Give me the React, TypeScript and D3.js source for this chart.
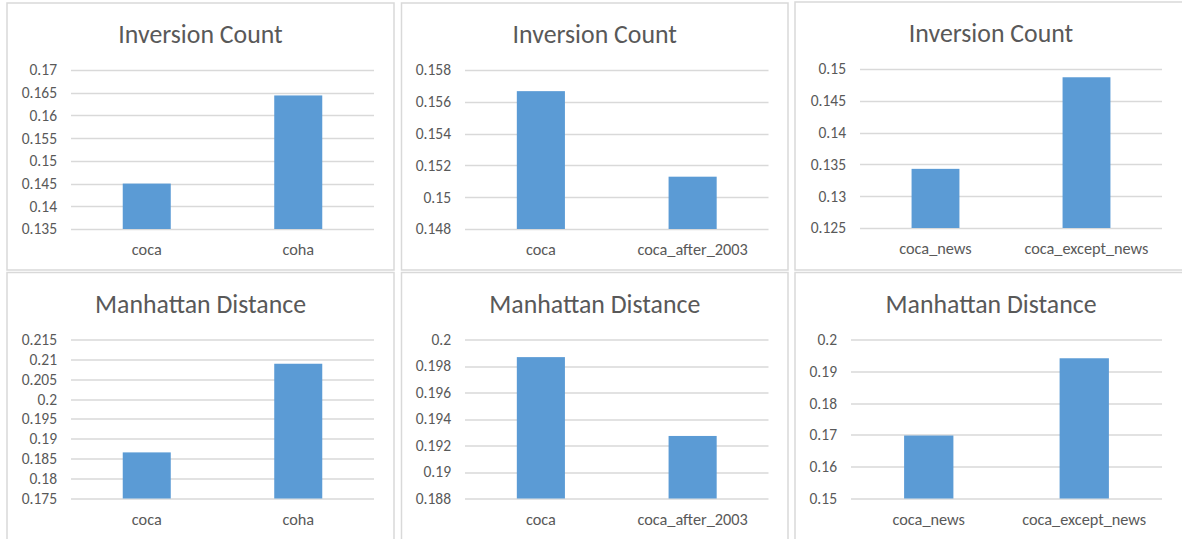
import React, { useEffect, useRef } from "react";
import * as d3 from "d3";

const W = 1182;
const H = 539;

const TEXT = "#595959";
const GRID = "#d9d9d9";
const BAR = "#5b9bd5";
const FONT = "Calibri, Carlito, Lato, 'Open Sans', sans-serif";

// categories
const CATS_COHA = ["coca", "coha"];
const CATS_2003 = ["coca", "coca_after_2003"];
const CATS_NEWS = ["coca_news", "coca_except_news"];

// series values
const INV_COHA = [0.145, 0.1644];
const INV_2003 = [0.15667, 0.15129];
const INV_NEWS = [0.1343, 0.1487];
const MAN_COHA = [0.1866, 0.2089];
const MAN_2003 = [0.19867, 0.19272];
const MAN_NEWS = [0.1698, 0.1941];

// tick labels
const TICKS_INV_COHA = [0.135, 0.14, 0.145, 0.15, 0.155, 0.16, 0.165, 0.17];
const TICKS_INV_2003 = [0.148, 0.15, 0.152, 0.154, 0.156, 0.158];
const TICKS_INV_NEWS = [0.125, 0.13, 0.135, 0.14, 0.145, 0.15];
const TICKS_MAN_COHA = [0.175, 0.18, 0.185, 0.19, 0.195, 0.2, 0.205, 0.21, 0.215];
const TICKS_MAN_2003 = [0.188, 0.19, 0.192, 0.194, 0.196, 0.198, 0.2];
const TICKS_MAN_NEWS = [0.15, 0.16, 0.17, 0.18, 0.19, 0.2];

const TITLES = ["Inversion Count", "Manhattan Distance"];

const charts = [
  { title: TITLES[0], cats: CATS_COHA, vals: INV_COHA, ticks: TICKS_INV_COHA },
  { title: TITLES[0], cats: CATS_2003, vals: INV_2003, ticks: TICKS_INV_2003 },
  { title: TITLES[0], cats: CATS_NEWS, vals: INV_NEWS, ticks: TICKS_INV_NEWS },
  { title: TITLES[1], cats: CATS_COHA, vals: MAN_COHA, ticks: TICKS_MAN_COHA },
  { title: TITLES[1], cats: CATS_2003, vals: MAN_2003, ticks: TICKS_MAN_2003 },
  { title: TITLES[1], cats: CATS_NEWS, vals: MAN_NEWS, ticks: TICKS_MAN_NEWS },
];

// panel boxes and plot left offset (depends on tick label width)
const layout = [
  { x: 7, y: 3, w: 387, h: 267, left: 64 },
  { x: 401.5, y: 3, w: 386.5, h: 267, left: 63.5 },
  { x: 795, y: 2, w: 392, h: 268, left: 65 },
  { x: 7, y: 272.5, w: 387, h: 280, left: 64 },
  { x: 401.5, y: 272.5, w: 386.5, h: 280, left: 63.5 },
  { x: 795, y: 272.5, w: 392, h: 280, left: 56 },
];

const fmt = (v: number) => String(+v.toFixed(3));

export default function App() {
  const ref = useRef<SVGSVGElement>(null);

  useEffect(() => {
    const svg = d3.select(ref.current);
    svg.selectAll("*").remove();

    charts.forEach((c, i) => {
      const p = layout[i];
      const g = svg.append("g").attr("transform", `translate(${p.x},${p.y})`);

      g.append("rect")
        .attr("x", 0).attr("y", 0)
        .attr("width", p.w).attr("height", p.h)
        .attr("fill", "#fff")
        .attr("stroke", GRID)
        .attr("stroke-width", 1.5);

      const plotTop = 67;
      const plotBottom = 226;
      const plotRight = 367;

      const x = d3.scaleBand<string>()
        .domain(c.cats)
        .range([p.left, plotRight])
        .paddingInner(0.683)
        .paddingOuter(0.683 / 2);

      const y = d3.scaleLinear()
        .domain([c.ticks[0], c.ticks[c.ticks.length - 1]])
        .range([plotBottom, plotTop]);

      g.append("text")
        .attr("x", p.w / 2)
        .attr("y", 40)
        .attr("text-anchor", "middle")
        .attr("font-family", FONT)
        .attr("font-size", 25.8)
        .attr("fill", TEXT)
        .text(c.title);

      g.selectAll(".grid")
        .data(c.ticks)
        .enter()
        .append("line")
        .attr("x1", p.left)
        .attr("x2", plotRight)
        .attr("y1", (d) => Math.round(y(d)) + 0.5)
        .attr("y2", (d) => Math.round(y(d)) + 0.5)
        .attr("stroke", GRID)
        .attr("stroke-width", 1.3);

      g.selectAll(".tick")
        .data(c.ticks)
        .enter()
        .append("text")
        .attr("x", p.left - 14)
        .attr("y", (d) => y(d))
        .attr("dy", "0.35em")
        .attr("text-anchor", "end")
        .attr("font-family", FONT)
        .attr("font-size", 15.5)
        .attr("fill", TEXT)
        .text((d) => fmt(d));

      g.selectAll(".bar")
        .data(c.vals)
        .enter()
        .append("rect")
        .attr("x", (_d, j) => x(c.cats[j]) as number)
        .attr("width", x.bandwidth())
        .attr("y", (d) => y(d))
        .attr("height", (d) => y(c.ticks[0]) - y(d))
        .attr("fill", BAR);

      g.selectAll(".cat")
        .data(c.cats)
        .enter()
        .append("text")
        .attr("x", (d) => (x(d) as number) + x.bandwidth() / 2)
        .attr("y", plotBottom + 26)
        .attr("text-anchor", "middle")
        .attr("font-family", FONT)
        .attr("font-size", 16.3)
        .attr("fill", TEXT)
        .text((d) => d);
    });
  }, []);

  return (
    <svg
      ref={ref}
      width={W}
      height={H}
      style={{ position: "absolute", left: 0, top: 0, background: "#fff" }}
    />
  );
}
